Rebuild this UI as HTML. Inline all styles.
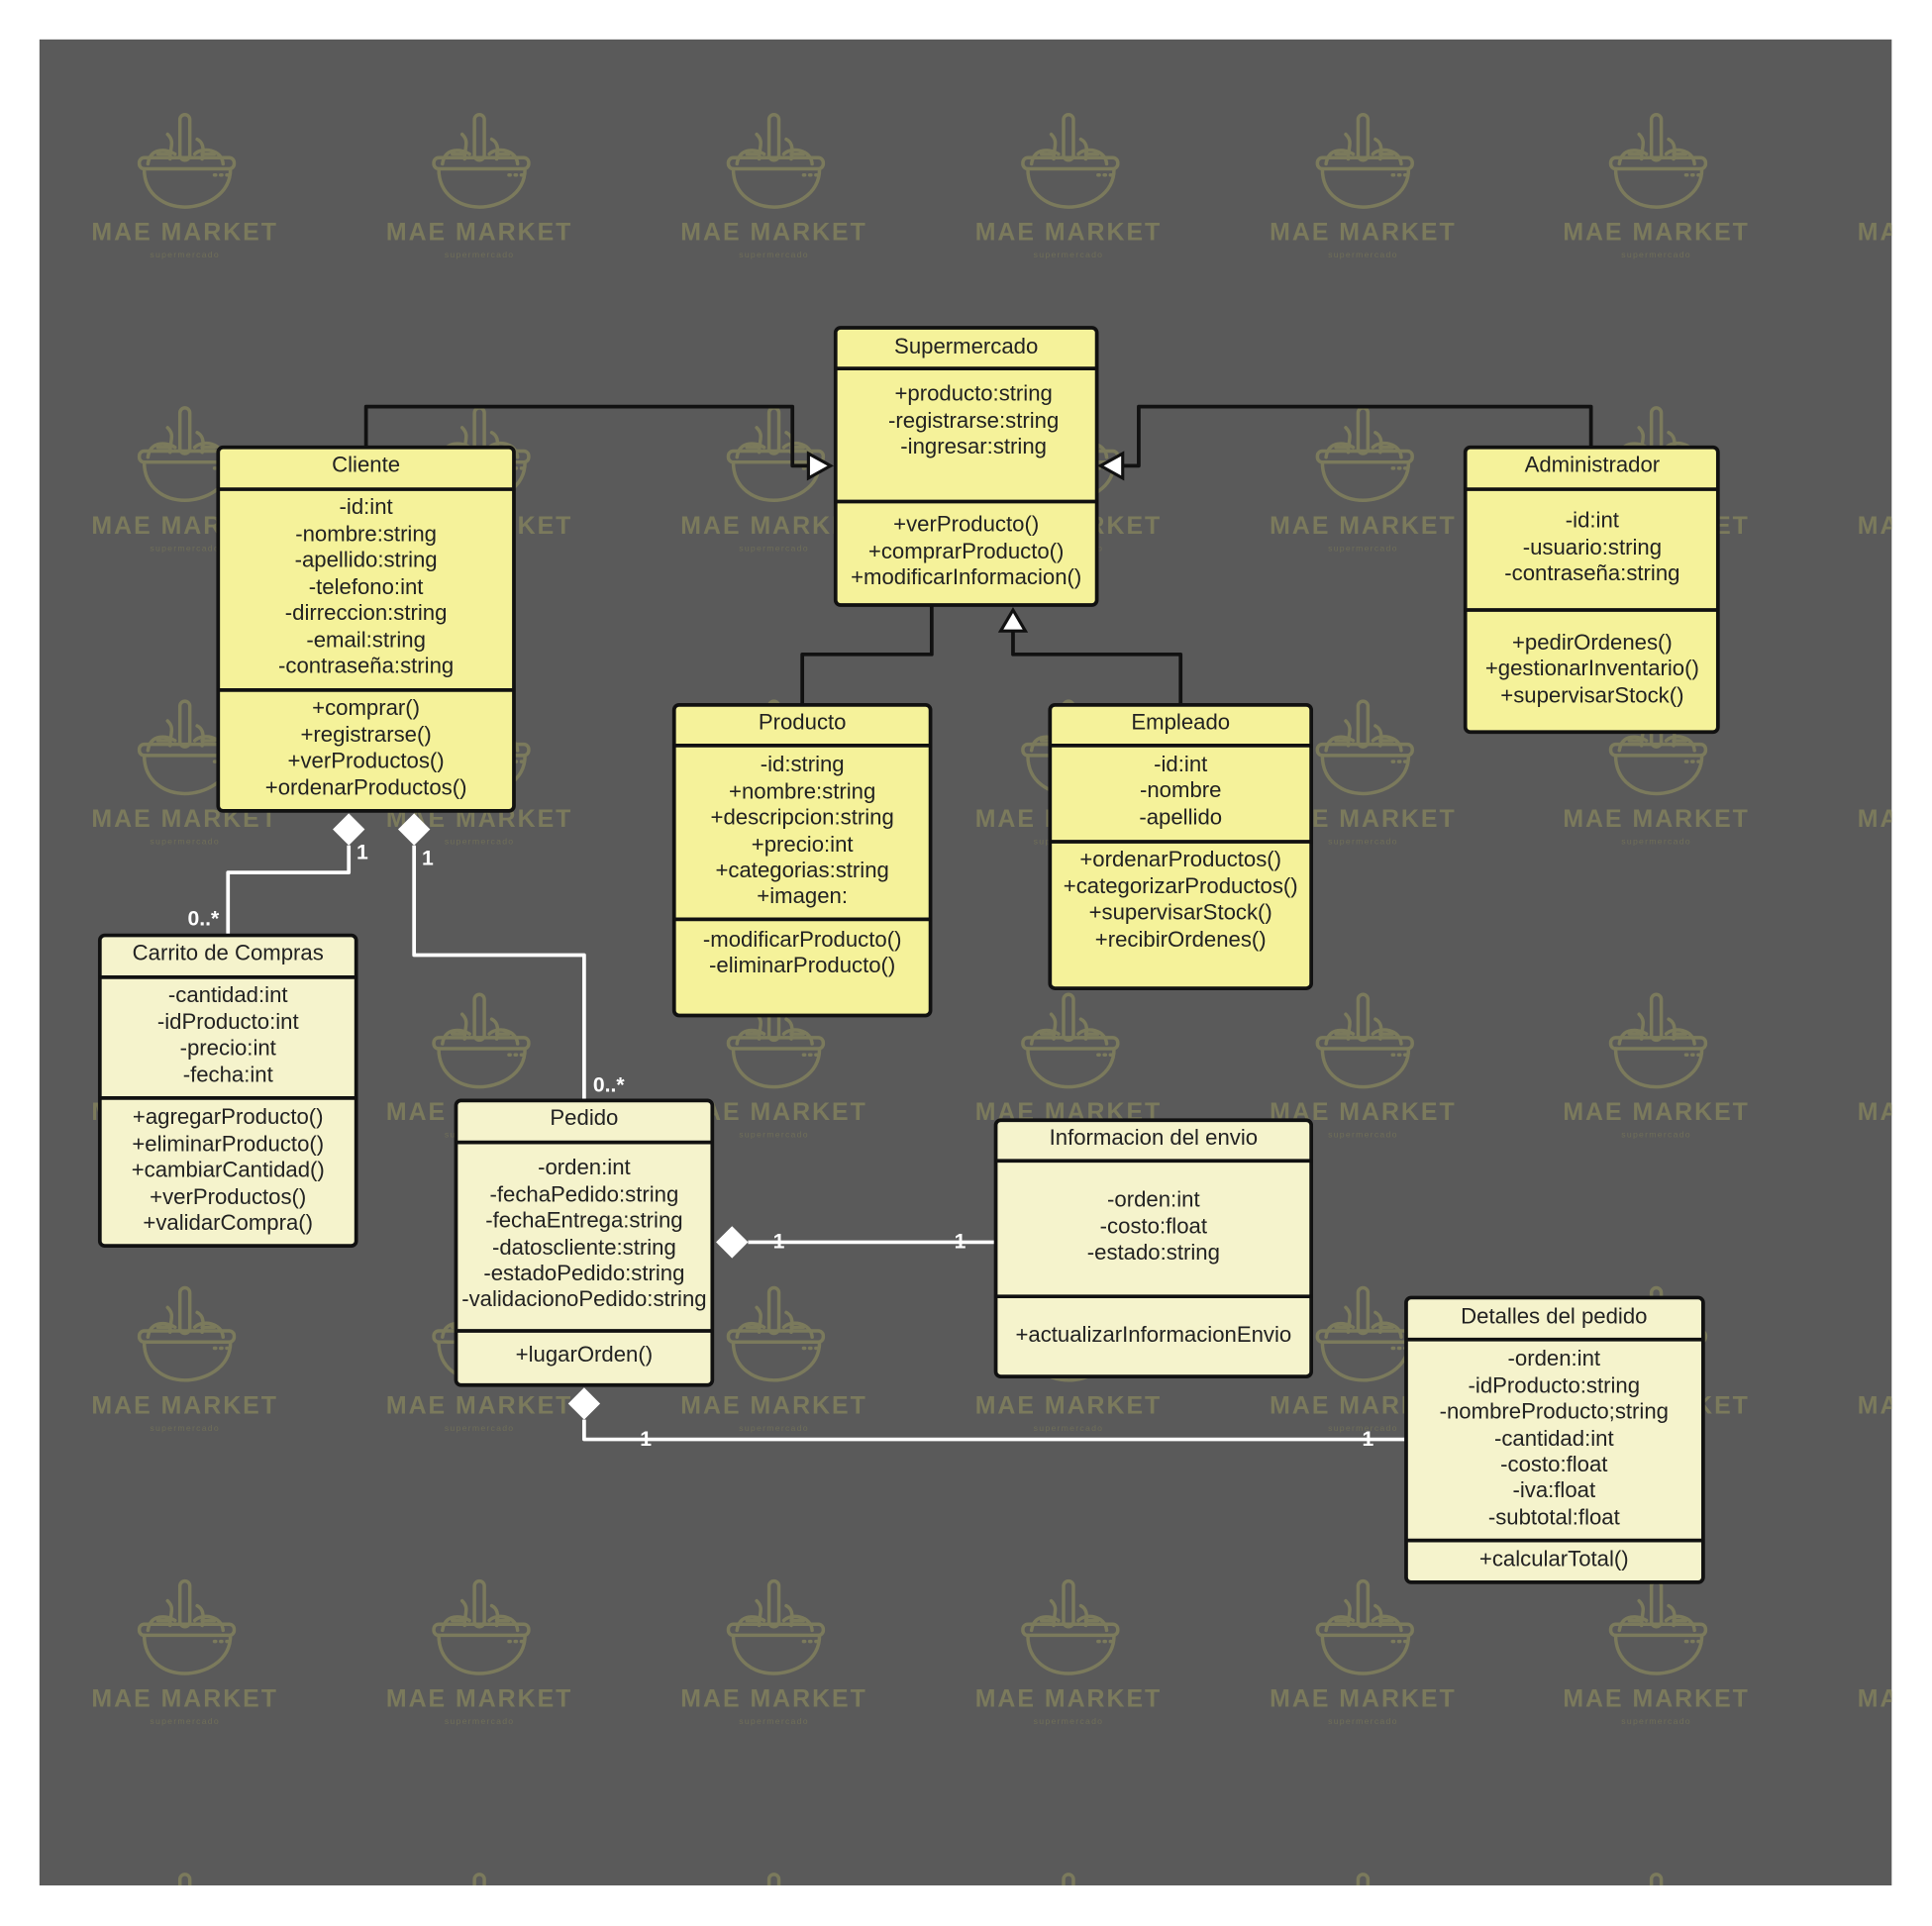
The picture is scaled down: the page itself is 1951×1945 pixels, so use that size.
<!DOCTYPE html>
<html><head><meta charset="utf-8"><style>
html,body{margin:0;padding:0;background:#fff;width:1951px;height:1945px;overflow:hidden;}
svg{display:block;}
.t{font-family:"Liberation Sans",sans-serif;font-size:17.8px;fill:#222;text-anchor:middle;}
.wm{font-family:"Liberation Sans",sans-serif;font-size:20px;font-weight:bold;fill:#7b7a5c;text-anchor:middle;letter-spacing:1.6px;}
.ws{font-family:"Liberation Sans",sans-serif;font-size:7px;fill:#6f6e58;text-anchor:middle;letter-spacing:1px;}
.lb{font-family:"Liberation Sans",sans-serif;font-size:17px;font-weight:bold;fill:#fff;text-anchor:middle;}
</style></head><body>
<svg width="1951" height="1945" viewBox="0 0 1567.7 1562.9" xmlns="http://www.w3.org/2000/svg">
<defs>
<clipPath id="bgc"><rect x="32" y="32" width="1503" height="1498"/></clipPath>
<g id="logo" fill="none" stroke="#7b7a5c" stroke-width="2.8" stroke-linecap="round">
<rect x="-4" y="0" width="8" height="37" rx="4"/>
<path d="M-8 32 C-14 28 -28 26 -30 40 M-12 36 C-12 26 -8 22 -14 16 M-22 32 L-12 32"/>
<path d="M8 32 C14 26 30 28 31 40 M14 36 C16 26 14 22 10 20 M14 32 L24 32"/>
<rect x="-37" y="35" width="77" height="9" rx="4"/>
<path d="M-33 44 C-33 66 -15 75 0 75 C15 75 37 66 37 44"/>
<path d="M24 49 L25 49 M29 49 L30 49 M34 49 L35 49"/>
</g>
</defs>
<rect x="32" y="32" width="1503" height="1498" fill="#5a5a5a"/>
<g clip-path="url(#bgc)">
<g id="row">
<use href="#logo" x="150" y="93"/><use href="#logo" x="389" y="93"/><use href="#logo" x="628" y="93"/><use href="#logo" x="867" y="93"/><use href="#logo" x="1106" y="93"/><use href="#logo" x="1344" y="93"/><use href="#logo" x="1583" y="93"/>
<text class="wm" x="150" y="195">MAE MARKET</text><text class="wm" x="389" y="195">MAE MARKET</text><text class="wm" x="628" y="195">MAE MARKET</text><text class="wm" x="867" y="195">MAE MARKET</text><text class="wm" x="1106" y="195">MAE MARKET</text><text class="wm" x="1344" y="195">MAE MARKET</text><text class="wm" x="1583" y="195">MAE MARKET</text>
<text class="ws" x="150" y="209">supermercado</text><text class="ws" x="389" y="209">supermercado</text><text class="ws" x="628" y="209">supermercado</text><text class="ws" x="867" y="209">supermercado</text><text class="ws" x="1106" y="209">supermercado</text><text class="ws" x="1344" y="209">supermercado</text><text class="ws" x="1583" y="209">supermercado</text>
</g>
<use href="#row" y="238"/><use href="#row" y="476"/><use href="#row" y="714"/><use href="#row" y="952"/><use href="#row" y="1190"/><use href="#row" y="1428"/>
</g>

<g fill="none" stroke="#111" stroke-width="3" stroke-linejoin="round">
<path d="M297 363 V330 H643 V378 H656"/>
<path d="M1291 363 V330 H924 V378 H911"/>
<path d="M651 572 V531 H756 V491"/>
<path d="M958 572 V531 H822 V512"/>
</g>
<g fill="#fff" stroke="#111" stroke-width="2.5">
<polygon points="656,368 674,378 656,388"/>
<polygon points="911,368 893,378 911,388"/>
<polygon points="812,512 822,495 832,512"/>
</g>

<g fill="none" stroke="#fff" stroke-width="3" stroke-linejoin="round">
<path d="M283 686 V708 H185 V759"/>
<path d="M336 686 V775 H474 V893"/>
<path d="M607 1008 H808"/>
<path d="M474 1152 V1168 H1141"/>
</g>
<g fill="#fff">
<polygon points="283,660 296,673 283,686 270,673"/>
<polygon points="336,660 349,673 336,686 323,673"/>
<polygon points="581,1008 594,995 607,1008 594,1021"/>
<polygon points="474,1126 487,1139 474,1152 461,1139"/>
</g>
<g class="lb">
<text x="294" y="697">1</text><text x="165" y="751">0..*</text>
<text x="347" y="702">1</text><text x="494" y="886">0..*</text>
<text x="632" y="1013">1</text><text x="779" y="1013">1</text>
<text x="524" y="1173">1</text><text x="1110" y="1173">1</text>
</g>

<g stroke="#111" stroke-width="3">
<rect x="678" y="266" width="212" height="225" rx="4" fill="#f5f29a"/>
<path d="M678 299 H890 M678 407 H890"/>
<rect x="177" y="363" width="240" height="295" rx="4" fill="#f5f29a"/>
<path d="M177 397 H417 M177 560 H417"/>
<rect x="1189" y="363" width="205" height="231" rx="4" fill="#f5f29a"/>
<path d="M1189 397 H1394 M1189 495 H1394"/>
<rect x="547" y="572" width="208" height="252" rx="4" fill="#f5f29a"/>
<path d="M547 605 H755 M547 746 H755"/>
<rect x="852" y="572" width="212" height="230" rx="4" fill="#f5f29a"/>
<path d="M852 605 H1064 M852 683 H1064"/>
<rect x="81" y="759" width="208" height="252" rx="4" fill="#f5f3cc"/>
<path d="M81 793 H289 M81 891 H289"/>
<rect x="370" y="893" width="208" height="231" rx="4" fill="#f5f3cc"/>
<path d="M370 927 H578 M370 1080 H578"/>
<rect x="808" y="909" width="256" height="208" rx="4" fill="#f5f3cc"/>
<path d="M808 942 H1064 M808 1052 H1064"/>
<rect x="1141" y="1053" width="241" height="231" rx="4" fill="#f5f3cc"/>
<path d="M1141 1087 H1382 M1141 1250 H1382"/>
</g>

<g class="t">
<text x="784" y="287">Supermercado</text>
<text x="790" y="325">+producto:string</text><text x="790" y="347">-registrarse:string</text><text x="790" y="368">-ingresar:string</text>
<text x="784" y="431">+verProducto()</text><text x="784" y="453">+comprarProducto()</text><text x="784" y="474">+modificarInformacion()</text>

<text x="297" y="383">Cliente</text>
<text x="297" y="417">-id:int</text><text x="297" y="439">-nombre:string</text><text x="297" y="460">-apellido:string</text><text x="297" y="482">-telefono:int</text><text x="297" y="503">-dirreccion:string</text><text x="297" y="525">-email:string</text><text x="297" y="546">-contraseña:string</text>
<text x="297" y="580">+comprar()</text><text x="297" y="602">+registrarse()</text><text x="297" y="623">+verProductos()</text><text x="297" y="645">+ordenarProductos()</text>

<text x="1292" y="383">Administrador</text>
<text x="1292" y="428">-id:int</text><text x="1292" y="450">-usuario:string</text><text x="1292" y="471">-contraseña:string</text>
<text x="1292" y="527">+pedirOrdenes()</text><text x="1292" y="548">+gestionarInventario()</text><text x="1292" y="570">+supervisarStock()</text>

<text x="651" y="592">Producto</text>
<text x="651" y="626">-id:string</text><text x="651" y="648">+nombre:string</text><text x="651" y="669">+descripcion:string</text><text x="651" y="691">+precio:int</text><text x="651" y="712">+categorias:string</text><text x="651" y="733">+imagen:</text>
<text x="651" y="768">-modificarProducto()</text><text x="651" y="789">-eliminarProducto()</text>

<text x="958" y="592">Empleado</text>
<text x="958" y="626">-id:int</text><text x="958" y="647">-nombre</text><text x="958" y="669">-apellido</text>
<text x="958" y="703">+ordenarProductos()</text><text x="958" y="725">+categorizarProductos()</text><text x="958" y="746">+supervisarStock()</text><text x="958" y="768">+recibirOrdenes()</text>

<text x="185" y="779">Carrito de Compras</text>
<text x="185" y="813">-cantidad:int</text><text x="185" y="835">-idProducto:int</text><text x="185" y="856">-precio:int</text><text x="185" y="878">-fecha:int</text>
<text x="185" y="912">+agregarProducto()</text><text x="185" y="934">+eliminarProducto()</text><text x="185" y="955">+cambiarCantidad()</text><text x="185" y="977">+verProductos()</text><text x="185" y="998">+validarCompra()</text>

<text x="474" y="913">Pedido</text>
<text x="474" y="953">-orden:int</text><text x="474" y="975">-fechaPedido:string</text><text x="474" y="996">-fechaEntrega:string</text><text x="474" y="1018">-datoscliente:string</text><text x="474" y="1039">-estadoPedido:string</text><text x="474" y="1060">-validacionoPedido:string</text>
<text x="474" y="1105">+lugarOrden()</text>

<text x="936" y="929">Informacion del envio</text>
<text x="936" y="979">-orden:int</text><text x="936" y="1001">-costo:float</text><text x="936" y="1022">-estado:string</text>
<text x="936" y="1089">+actualizarInformacionEnvio</text>

<text x="1261" y="1074">Detalles del pedido</text>
<text x="1261" y="1108">-orden:int</text><text x="1261" y="1130">-idProducto:string</text><text x="1261" y="1151">-nombreProducto;string</text><text x="1261" y="1173">-cantidad:int</text><text x="1261" y="1194">-costo:float</text><text x="1261" y="1215">-iva:float</text><text x="1261" y="1237">-subtotal:float</text>
<text x="1261" y="1271">+calcularTotal()</text>
</g>
</svg>
</body></html>
